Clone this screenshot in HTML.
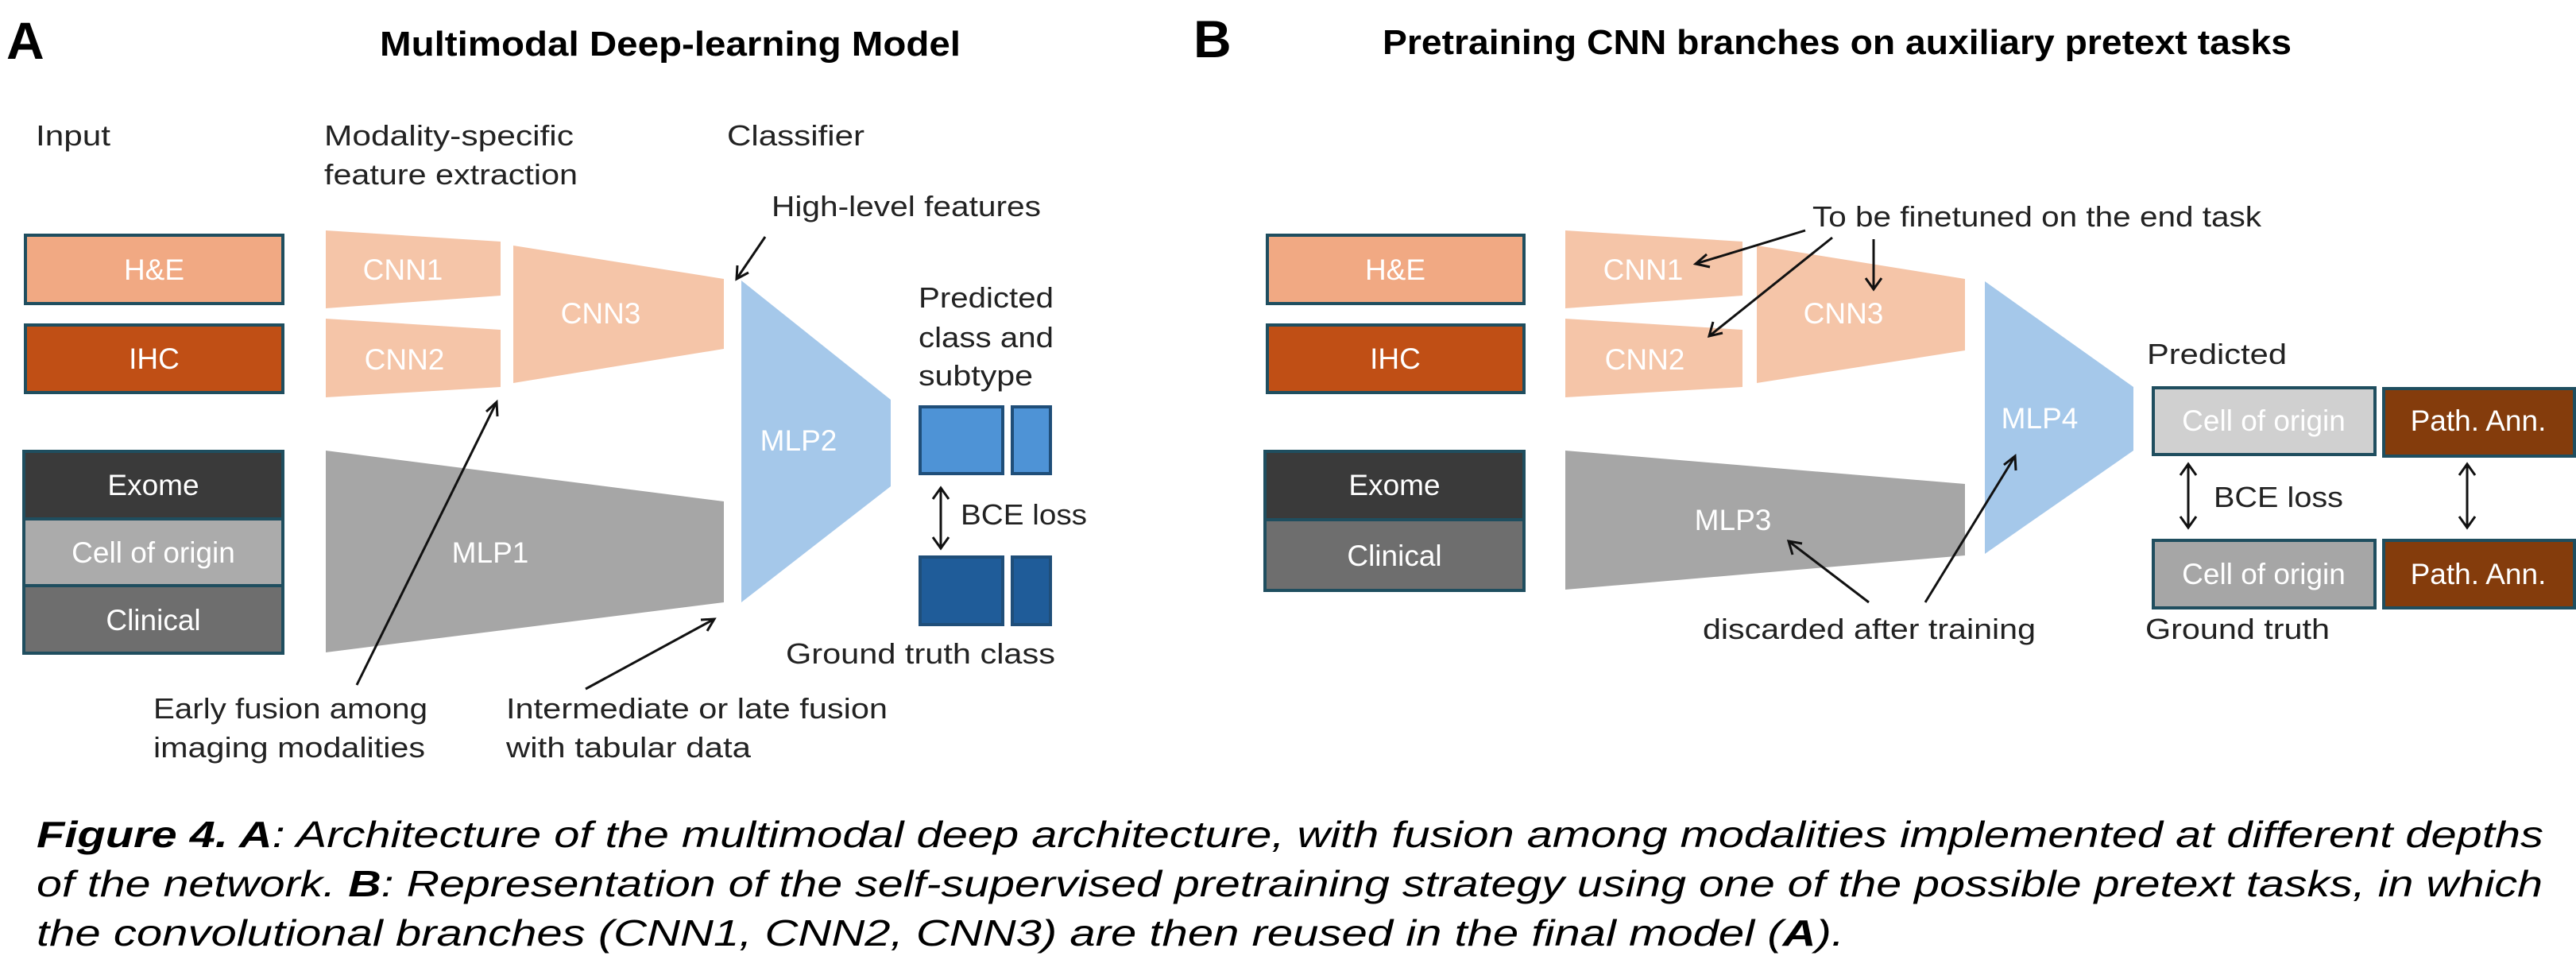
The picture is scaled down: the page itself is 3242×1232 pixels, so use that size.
<!DOCTYPE html>
<html><head><meta charset="utf-8"><style>
html,body{margin:0;padding:0;background:#fff;}
svg{display:block;}
text{font-family:"Liberation Sans",sans-serif;}
</style></head><body>
<svg width="3242" height="1232" viewBox="0 0 3242 1232" xmlns="http://www.w3.org/2000/svg">
<defs>
<marker id="ah" markerWidth="10" markerHeight="10" refX="9" refY="5" orient="auto" markerUnits="userSpaceOnUse" viewBox="0 0 10 10">
</marker>
</defs>
<style>
.lbl{font-size:36px;fill:#222;}
.w{font-size:37px;fill:#fff;text-anchor:middle;}
.ar{stroke:#111;stroke-width:3;fill:none;}
</style>

<!-- ===== Panel A ===== -->
<text x="8" y="74" font-size="66" font-weight="bold" fill="#000">A</text>
<text x="478" y="70" font-size="44" font-weight="bold" fill="#000" textLength="731" lengthAdjust="spacingAndGlyphs">Multimodal Deep-learning Model</text>

<text class="lbl" x="45" y="183" textLength="94" lengthAdjust="spacingAndGlyphs">Input</text>
<text class="lbl" x="408" y="183" textLength="314" lengthAdjust="spacingAndGlyphs">Modality-specific</text>
<text class="lbl" x="408" y="232" textLength="319" lengthAdjust="spacingAndGlyphs">feature extraction</text>
<text class="lbl" x="915" y="183" textLength="173" lengthAdjust="spacingAndGlyphs">Classifier</text>
<text class="lbl" x="971" y="272" textLength="339" lengthAdjust="spacingAndGlyphs">High-level features</text>

<!-- input boxes A -->
<rect x="32" y="296" width="324" height="86" fill="#F1A983" stroke="#1F4E5F" stroke-width="4"/>
<text class="w" x="194" y="352">H&amp;E</text>
<rect x="32" y="409" width="324" height="85" fill="#C04F15" stroke="#1F4E5F" stroke-width="4"/>
<text class="w" x="194" y="464">IHC</text>
<rect x="30" y="568" width="326" height="85" fill="#3A3A3A" stroke="#1F4E5F" stroke-width="4"/>
<text class="w" x="193" y="623">Exome</text>
<rect x="30" y="653" width="326" height="84" fill="#ABABAB" stroke="#1F4E5F" stroke-width="4"/>
<text class="w" x="193" y="708" fill="#f2f2f2">Cell of origin</text>
<rect x="30" y="737" width="326" height="85" fill="#6E6E6E" stroke="#1F4E5F" stroke-width="4"/>
<text class="w" x="193" y="793">Clinical</text>

<!-- CNNs A -->
<polygon points="410,290 630,304 630,372 410,388" fill="#F5C5A8"/>
<text class="w" x="507" y="352">CNN1</text>
<polygon points="410,401 630,415 630,487 410,500" fill="#F5C5A8"/>
<text class="w" x="509" y="465">CNN2</text>
<polygon points="646,309 911,351 911,439 646,482" fill="#F5C5A8"/>
<text class="w" x="756" y="407">CNN3</text>
<polygon points="410,567 911,631 911,758 410,821" fill="#A6A6A6"/>
<text class="w" x="617" y="708">MLP1</text>
<polygon points="933,353 1121,503 1121,612 933,758" fill="#A5C8EA"/>
<text class="w" x="1005" y="567">MLP2</text>

<!-- predicted -->
<text class="lbl" x="1156" y="387" font-size="37" textLength="170" lengthAdjust="spacingAndGlyphs">Predicted</text>
<text class="lbl" x="1156" y="437" font-size="37" textLength="170" lengthAdjust="spacingAndGlyphs">class and</text>
<text class="lbl" x="1156" y="485" font-size="37" textLength="144" lengthAdjust="spacingAndGlyphs">subtype</text>
<rect x="1158" y="512" width="104" height="84" fill="#4E93D6" stroke="#1F4E79" stroke-width="4"/>
<rect x="1274" y="512" width="48" height="84" fill="#4E93D6" stroke="#1F4E79" stroke-width="4"/>
<rect x="1158" y="701" width="104" height="85" fill="#1F5C99" stroke="#1F4E79" stroke-width="4"/>
<rect x="1274" y="701" width="48" height="85" fill="#1F5C99" stroke="#1F4E79" stroke-width="4"/>
<line class="ar" x1="1184" y1="616" x2="1184" y2="688"/>
<polyline class="ar" points="1174,628 1184,614 1194,628"/>
<polyline class="ar" points="1174,676 1184,690 1194,676"/>
<text class="lbl" x="1209" y="660" textLength="159" lengthAdjust="spacingAndGlyphs">BCE loss</text>
<text class="lbl" x="989" y="835" textLength="339" lengthAdjust="spacingAndGlyphs">Ground truth class</text>

<!-- arrows A -->
<line class="ar" x1="963" y1="298" x2="927" y2="351"/>
<polyline class="ar" points="928,334 927,351 942,343"/>
<line class="ar" x1="449" y1="862" x2="625" y2="506"/>
<polyline class="ar" points="612,518 625,506 626,524"/>
<line class="ar" x1="737" y1="867" x2="899" y2="779"/>
<polyline class="ar" points="882,780 899,779 890,794"/>

<text class="lbl" x="193" y="904" textLength="345" lengthAdjust="spacingAndGlyphs">Early fusion among</text>
<text class="lbl" x="193" y="953" textLength="342" lengthAdjust="spacingAndGlyphs">imaging modalities</text>
<text class="lbl" x="637" y="904" textLength="480" lengthAdjust="spacingAndGlyphs">Intermediate or late fusion</text>
<text class="lbl" x="637" y="953" textLength="308" lengthAdjust="spacingAndGlyphs">with tabular data</text>

<!-- ===== Panel B ===== -->
<text x="1502" y="72" font-size="66" font-weight="bold" fill="#000">B</text>
<text x="1740" y="68" font-size="44" font-weight="bold" fill="#000" textLength="1144" lengthAdjust="spacingAndGlyphs">Pretraining CNN branches on auxiliary pretext tasks</text>

<rect x="1595" y="296" width="323" height="86" fill="#F1A983" stroke="#1F4E5F" stroke-width="4"/>
<text class="w" x="1756" y="352">H&amp;E</text>
<rect x="1595" y="409" width="323" height="85" fill="#C04F15" stroke="#1F4E5F" stroke-width="4"/>
<text class="w" x="1756" y="464">IHC</text>
<rect x="1592" y="568" width="326" height="86" fill="#3A3A3A" stroke="#1F4E5F" stroke-width="4"/>
<text class="w" x="1755" y="623">Exome</text>
<rect x="1592" y="654" width="326" height="89" fill="#6E6E6E" stroke="#1F4E5F" stroke-width="4"/>
<text class="w" x="1755" y="712">Clinical</text>

<polygon points="1970,290 2193,304 2193,372 1970,388" fill="#F5C5A8"/>
<text class="w" x="2068" y="352">CNN1</text>
<polygon points="1970,401 2193,415 2193,487 1970,500" fill="#F5C5A8"/>
<text class="w" x="2070" y="465">CNN2</text>
<polygon points="2211,309 2473,351 2473,441 2211,482" fill="#F5C5A8"/>
<text class="w" x="2320" y="407">CNN3</text>
<polygon points="1970,567 2473,609 2473,699 1970,742" fill="#A6A6A6"/>
<text class="w" x="2181" y="667">MLP3</text>
<polygon points="2498,354 2685,487 2685,567 2498,697" fill="#A5C8EA"/>
<text class="w" x="2567" y="539">MLP4</text>

<text class="lbl" x="2281" y="285" textLength="565" lengthAdjust="spacingAndGlyphs">To be finetuned on the end task</text>
<line class="ar" x1="2272" y1="290" x2="2134" y2="332"/>
<polyline class="ar" points="2148,320 2134,332 2152,336"/>
<line class="ar" x1="2306" y1="299" x2="2151" y2="423"/>
<polyline class="ar" points="2156,405 2151,423 2168,419"/>
<line class="ar" x1="2358" y1="301" x2="2358" y2="363"/>
<polyline class="ar" points="2348,350 2358,364 2368,350"/>

<text class="lbl" x="2702" y="458" textLength="176" lengthAdjust="spacingAndGlyphs">Predicted</text>
<rect x="2710" y="488" width="279" height="84" fill="#D0D0D0" stroke="#1F4E5F" stroke-width="4"/>
<text class="w" x="2849" y="542" fill="#f2f2f2">Cell of origin</text>
<rect x="3000" y="489" width="240" height="85" fill="#843C0C" stroke="#1F4E5F" stroke-width="4"/>
<text class="w" x="3119" y="542">Path. Ann.</text>
<rect x="2710" y="680" width="279" height="85" fill="#A6A6A6" stroke="#1F4E5F" stroke-width="4"/>
<text class="w" x="2849" y="735" fill="#f2f2f2">Cell of origin</text>
<rect x="3000" y="680" width="240" height="85" fill="#843C0C" stroke="#1F4E5F" stroke-width="4"/>
<text class="w" x="3119" y="735">Path. Ann.</text>

<line class="ar" x1="2754" y1="586" x2="2754" y2="662"/>
<polyline class="ar" points="2744,598 2754,584 2764,598"/>
<polyline class="ar" points="2744,650 2754,664 2764,650"/>
<line class="ar" x1="3105" y1="586" x2="3105" y2="662"/>
<polyline class="ar" points="3095,598 3105,584 3115,598"/>
<polyline class="ar" points="3095,650 3105,664 3115,650"/>
<text class="lbl" x="2786" y="638" textLength="163" lengthAdjust="spacingAndGlyphs">BCE loss</text>

<line class="ar" x1="2352" y1="758" x2="2251" y2="681"/>
<polyline class="ar" points="2256,698 2251,681 2268,684"/>
<line class="ar" x1="2423" y1="758" x2="2536" y2="574"/>
<polyline class="ar" points="2522,585 2536,574 2537,592"/>
<text class="lbl" x="2143" y="804" textLength="419" lengthAdjust="spacingAndGlyphs">discarded after training</text>
<text class="lbl" x="2700" y="804" textLength="232" lengthAdjust="spacingAndGlyphs">Ground truth</text>

<!-- ===== Caption ===== -->
<text x="46" y="1066" font-size="46" font-style="italic" fill="#000" textLength="3155" lengthAdjust="spacingAndGlyphs"><tspan font-weight="bold">Figure 4. A</tspan>: Architecture of the multimodal deep architecture, with fusion among modalities implemented at different depths</text>
<text x="46" y="1128" font-size="46" font-style="italic" fill="#000" textLength="3154" lengthAdjust="spacingAndGlyphs">of the network. <tspan font-weight="bold">B</tspan>: Representation of the self-supervised pretraining strategy using one of the possible pretext tasks, in which</text>
<text x="46" y="1190" font-size="46" font-style="italic" fill="#000" textLength="2275" lengthAdjust="spacingAndGlyphs">the convolutional branches (CNN1, CNN2, CNN3) are then reused in the final model (<tspan font-weight="bold">A</tspan>).</text>
</svg>
</body></html>
